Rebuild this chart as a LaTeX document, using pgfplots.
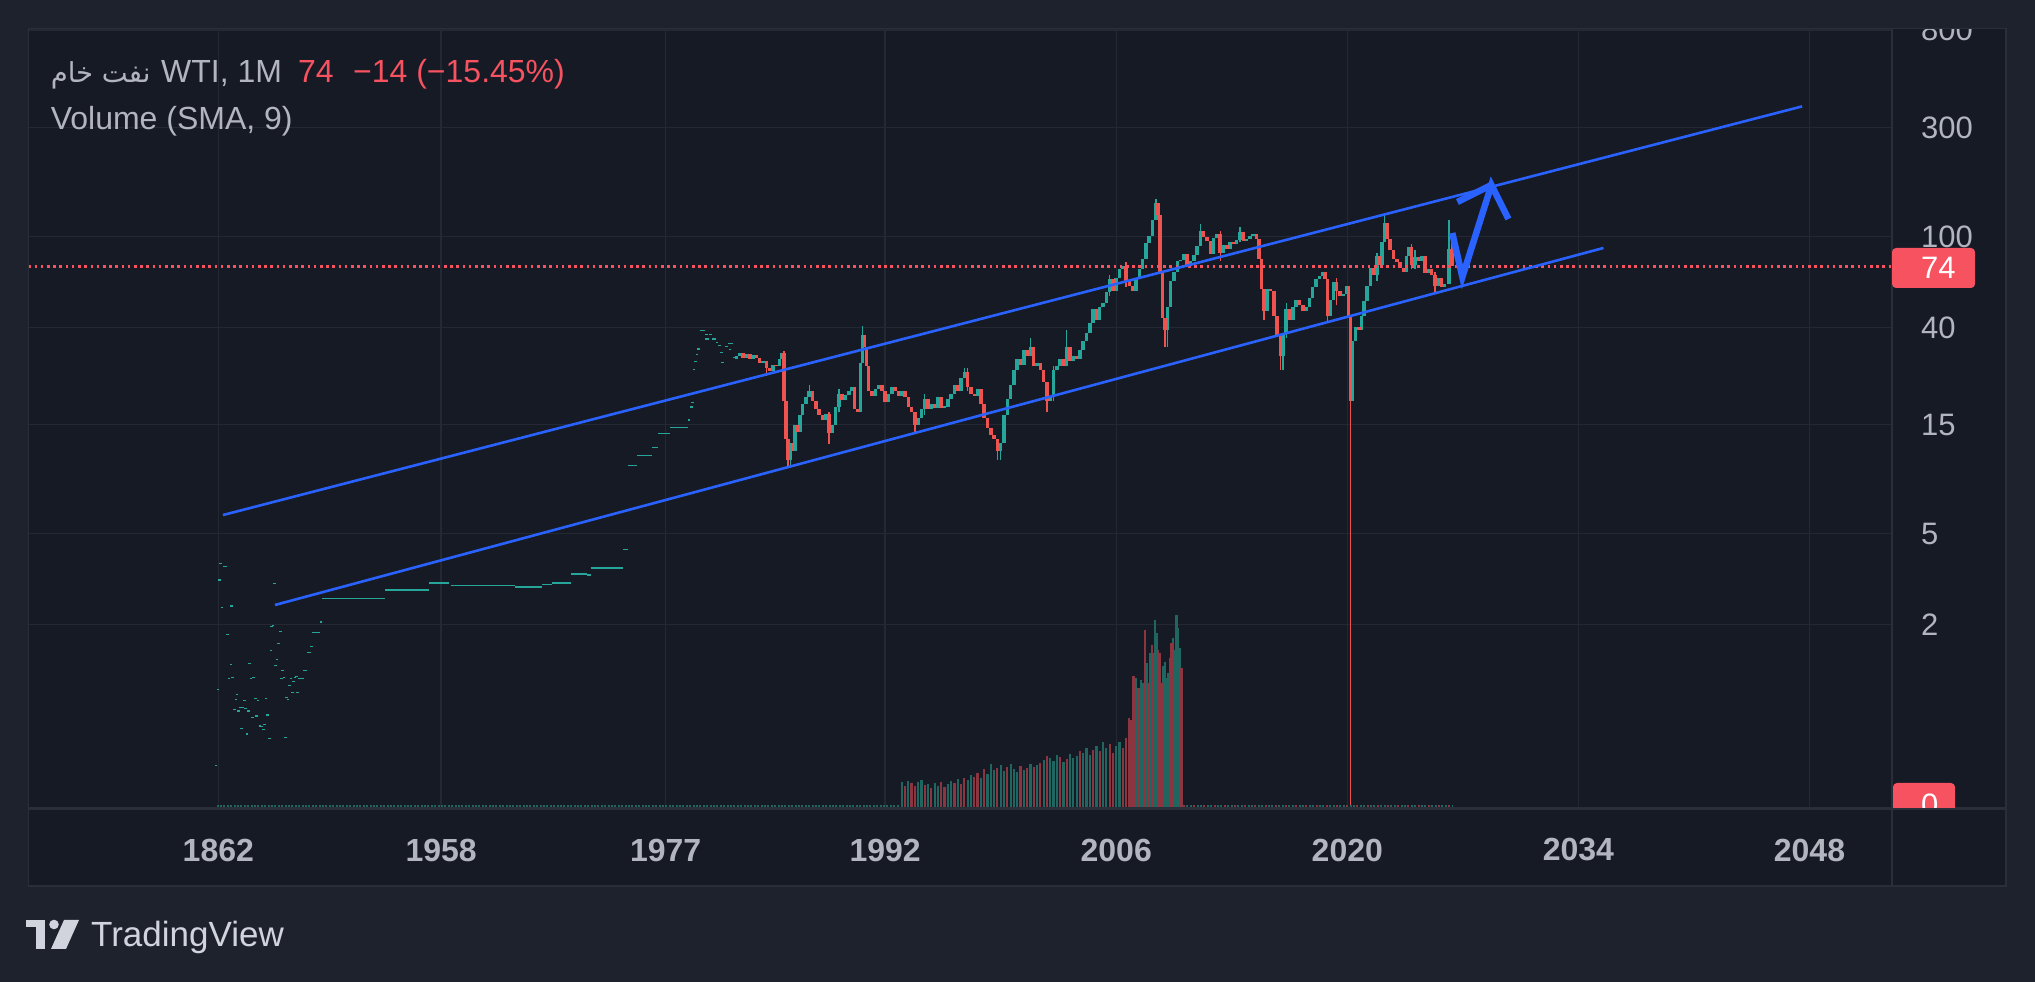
\documentclass[border=0pt]{standalone}
\usepackage{pgfplots}
\pgfplotsset{compat=1.18}
\usepackage{fontspec}
\setmainfont{Liberation Sans}
\newfontfamily\arabicfont[Script=Arabic]{DejaVu Sans}
\TeXXeTstate=1
\definecolor{outerbg}{HTML}{1E222D}
\definecolor{panebg}{HTML}{161A25}
\definecolor{gridc}{HTML}{242833}
\definecolor{borderc}{HTML}{2A2E39}
\definecolor{labc}{HTML}{B2B5BE}
\definecolor{upc}{HTML}{26A69A}
\definecolor{dnc}{HTML}{EF5350}
\definecolor{bluec}{HTML}{2962FF}
\definecolor{redlab}{HTML}{F7525F}
\definecolor{logoc}{HTML}{D1D4DC}
\definecolor{volup}{HTML}{1F6660}
\definecolor{voldn}{HTML}{8A3540}
\begin{document}
\begin{tikzpicture}[x=1pt,y=1pt]
\useasboundingbox (0,0) rectangle (2035,982);
\fill[outerbg] (0,0) rectangle (2035,982);
\fill[panebg] (28.5,96) rectangle (2006,953.5);
\begin{axis}[
  at={(28.5pt,173.5pt)}, anchor=south west,
  width=1863.5pt, height=780pt, scale only axis,
  xmin=1940.1, xmax=2053.0,
  ymode=log, ymin=0.3139, ymax=813.5,
  axis line style={draw=none},
  tick style={draw=none}, major tick length=0pt,
  xtick={1951.6,1965.1,1978.7,1992,2006,2020,2034,2048},
  xticklabels={1862,1958,1977,1992,2006,2020,2034,2048},
  ytick={2,5,15,40,100,300,800},
  yticklabels={2,5,15,40,100,300,800},
  yticklabel pos=right,
  grid=major, grid style={draw=gridc, line width=1.4pt},
  xticklabel style={font=\bfseries\fontsize{32}{38}\selectfont, text=labc, anchor=center, inner sep=0pt, yshift=-41.5pt},
  yticklabel style={font=\fontsize{31}{36}\selectfont, text=labc, anchor=west, inner sep=0pt, xshift=29pt},
  /pgf/number format/assume math mode=true,
  unbounded coords=jump,
  clip=true,
]
% early flat segments
\addplot[upc, line width=1.6pt] coordinates {
(1951.89,3.60)(1952.10,3.60)(1952.10,nan)
(1956.45,1.165)(1956.77,1.165)(1956.77,nan)
(1956.73,1.263)(1956.98,1.263)(1956.98,nan)
(1956.98,1.514)(1957.19,1.514)(1957.19,nan)
(1957.26,1.852)(1957.76,1.852)(1957.76,nan)
(1957.90,2.60)(1961.70,2.60)(1961.70,nan)
(1961.70,2.83)(1964.35,2.83)(1964.35,nan)
(1964.35,3.05)(1965.60,3.05)(1965.60,nan)
(1965.67,2.97)(1969.60,2.97)(1969.60,nan)
(1969.60,2.92)(1971.24,2.92)(1971.24,nan)
(1971.24,3.00)(1971.84,3.00)(1971.84,nan)
(1971.84,3.05)(1972.98,3.05)(1972.98,nan)
(1972.98,3.33)(1973.93,3.33)(1973.93,nan)
(1973.93,3.30)(1974.15,3.30)(1974.15,nan)
(1974.15,3.55)(1976.13,3.55)(1976.13,nan)
(1976.13,4.27)(1976.41,4.27)(1976.41,nan)
(1976.41,9.97)(1976.98,9.97)(1976.98,nan)
(1976.98,11.0)(1977.85,11.0)(1977.85,nan)
(1977.85,11.95)(1978.24,11.95)(1978.24,nan)
(1978.24,13.76)(1978.98,13.76)(1978.98,nan)
(1978.98,14.6)(1980.04,14.6)(1980.04,nan)
(1980.04,15.7)(1980.20,15.7)(1980.20,nan)
(1980.78,38.8)(1981.07,38.8)(1981.07,nan)
(1981.07,37.3)(1981.28,37.3)(1981.28,nan)
(1981.10,35.5)(1981.30,35.5)(1981.30,nan)
(1981.30,37.3)(1981.50,37.3)(1981.50,nan)
(1981.50,35.5)(1981.75,35.5)(1981.75,nan)
(1981.75,34.4)(1981.90,34.4)(1981.90,nan)
(1981.90,33.4)(1982.05,33.4)(1982.05,nan)
(1982.30,33.0)(1982.50,33.0)(1982.50,nan)
(1982.50,34.0)(1982.80,34.0)(1982.80,nan)
};
% early dots
\addplot[only marks, mark=-, mark size=1.3pt, upc, mark options={line width=1.6pt}] coordinates {
(1951.47,0.485)(1951.58,1.043)(1951.68,3.14)(1951.75,3.71)(1951.83,2.38)(1952.17,1.815)
(1952.36,1.342)(1952.25,1.165)(1952.47,1.177)(1952.40,2.41)(1952.66,0.943)(1952.74,0.99)
(1952.59,0.852)(1952.83,0.836)(1952.91,0.870)(1953.06,0.870)(1953.02,0.704)(1953.17,0.933)
(1953.25,0.861)(1953.33,0.663)(1953.44,0.836)(1953.50,1.355)(1953.59,1.165)(1953.67,0.786)
(1953.74,1.177)(1953.84,0.952)(1953.93,0.795)(1954.01,0.933)(1954.12,0.723)(1954.23,0.718)
(1954.35,0.697)(1954.39,0.733)(1954.50,0.952)(1954.58,0.803)(1954.69,0.636)(1954.78,1.545)
(1954.82,1.967)(1954.92,1.987)(1955.01,3.03)(1955.07,1.328)(1955.16,1.411)(1955.24,1.658)
(1955.35,1.871)(1955.43,1.165)(1955.50,1.263)(1955.58,1.177)(1955.67,0.643)(1955.73,0.962)
(1955.81,0.943)(1955.92,1.086)(1956.01,1.165)(1956.09,1.012)(1956.15,1.130)(1956.24,1.177)
(1956.32,1.189)(1956.41,1.012)(1957.23,1.609)(1957.83,2.05)
(1980.25,17.9)(1980.33,18.8)(1980.42,26.2)(1980.50,28.4)(1980.60,30.5)(1980.68,32.1)
(1982.10,31.1)(1982.15,28.1)(1982.60,32)(1982.85,29.5)
};
% wicks
\addplot[upc, line width=1.4pt] coordinates {
(1987.40,19.8)(1987.40,22.5)(1987.40,nan)
(1990.62,28)(1990.62,40.5)(1990.62,nan)
(1996.80,24)(1996.80,26.5)(1996.80,nan)
(2000.80,30)(2000.80,36)(2000.80,nan)
(2003.00,27)(2003.00,39)(2003.00,nan)
(2009.10,33)(2009.10,49)(2009.10,nan)
(2011.10,91)(2011.10,113)(2011.10,nan)
(2022.25,95)(2022.25,126)(2022.25,nan)
(2026.15,62)(2026.15,118)(2026.15,nan)
(2016.10,26)(2016.10,38)(2016.10,nan)
(2008.40,118)(2008.40,146)(2008.40,nan)
(1999.00,10.5)(1999.00,12.5)(1999.00,nan)
(1986.25,9.8)(1986.25,12.5)(1986.25,nan)
(1989.20,17)(1989.20,21.5)(1989.20,nan)
(1994.40,16.5)(1994.40,20.5)(1994.40,nan)
(2002.20,19)(2002.20,27)(2002.20,nan)
(2005.60,55)(2005.60,68)(2005.60,nan)
(2013.50,95)(2013.50,110)(2013.50,nan)
(2016.30,36)(2016.30,51)(2016.30,nan)
(2021.80,64)(2021.80,85)(2021.80,nan)
(2024.10,72)(2024.10,87)(2024.10,nan)
};
\addplot[dnc, line width=1.4pt] coordinates {
(1986.12,9.8)(1986.12,13)(1986.12,nan)
(1998.80,10.5)(1998.80,13)(1998.80,nan)
(2001.80,17)(2001.80,23)(2001.80,nan)
(2008.95,33)(2008.95,44)(2008.95,nan)
(2015.95,26)(2015.95,37)(2015.95,nan)
(2020.20,0.2)(2020.20,45)(2020.20,nan)
(2026.33,74)(2026.33,103)(2026.33,nan)
(2014.95,43)(2014.95,59)(2014.95,nan)
(2018.80,42)(2018.80,65)(2018.80,nan)
(1985.88,19)(1985.88,31.5)(1985.88,nan)
(1984.80,24.5)(1984.80,28.6)(1984.80,nan)
(1993.80,13.8)(1993.80,17)(1993.80,nan)
(1988.60,12.4)(1988.60,17)(1988.60,nan)
(1997.00,21)(1997.00,26.5)(1997.00,nan)
(2006.60,60)(2006.60,77)(2006.60,nan)
(2012.30,78)(2012.30,106)(2012.30,nan)
(2019.35,50)(2019.35,66)(2019.35,nan)
(2023.90,72)(2023.90,93)(2023.90,nan)
(2025.30,56)(2025.30,70)(2025.30,nan)
};
% up candle bodies
\addplot[upc, line width=3.5pt] coordinates {
(1983.00,29)(1983.00,30)(1983.00,nan)(1983.20,30)(1983.20,31)(1983.20,nan)
(1983.60,29.5)(1983.60,30.5)(1983.60,nan)(1984.00,29.2)(1984.00,30.2)(1984.00,nan)
(1984.60,28)(1984.60,28.6)(1984.60,nan)(1985.20,25.8)(1985.20,27.5)(1985.20,nan)
(1985.60,27)(1985.60,29)(1985.60,nan)(1985.75,29)(1985.75,30.8)(1985.75,nan)
(1986.25,10.5)(1986.25,12.5)(1986.25,nan)(1986.55,11.5)(1986.55,15)(1986.55,nan)
(1986.85,14)(1986.85,16.5)(1986.85,nan)(1987.00,16.5)(1987.00,18.5)(1987.00,nan)
(1987.20,18.5)(1987.20,19.8)(1987.20,nan)(1987.40,19.8)(1987.40,21)(1987.40,nan)
(1988.40,15.8)(1988.40,16.8)(1988.40,nan)(1988.80,13.8)(1988.80,15)(1988.80,nan)
(1989.00,15)(1989.00,18)(1989.00,nan)(1989.20,18)(1989.20,20.5)(1989.20,nan)
(1989.60,19.2)(1989.60,20.2)(1989.60,nan)(1989.80,20.2)(1989.80,21)(1989.80,nan)
(1990.00,21)(1990.00,22)(1990.00,nan)(1990.50,17)(1990.50,28)(1990.50,nan)
(1990.62,28)(1990.62,37)(1990.62,nan)(1991.40,20)(1991.40,21.5)(1991.40,nan)
(1991.60,21.5)(1991.60,22.5)(1991.60,nan)(1992.20,18.8)(1992.20,20.5)(1992.20,nan)
(1992.40,20.5)(1992.40,22)(1992.40,nan)(1993.00,20)(1993.00,21)(1993.00,nan)
(1994.00,15)(1994.00,16)(1994.00,nan)(1994.20,16)(1994.20,17.5)(1994.20,nan)
(1994.40,17.5)(1994.40,19.5)(1994.40,nan)(1994.80,17.5)(1994.80,18.5)(1994.80,nan)
(1995.20,17.8)(1995.20,19.8)(1995.20,nan)(1995.60,17.8)(1995.60,18.2)(1995.60,nan)
(1995.80,18)(1995.80,19.5)(1995.80,nan)(1996.00,19.5)(1996.00,20.5)(1996.00,nan)
(1996.20,20.5)(1996.20,22.5)(1996.20,nan)(1996.60,21)(1996.60,24)(1996.60,nan)
(1996.80,24)(1996.80,25.5)(1996.80,nan)(1997.60,20)(1997.60,21.5)(1997.60,nan)
(1999.00,11.5)(1999.00,12.5)(1999.00,nan)(1999.20,12.5)(1999.20,16.5)(1999.20,nan)
(1999.40,16.5)(1999.40,19.5)(1999.40,nan)(1999.60,19.5)(1999.60,22.5)(1999.60,nan)
(1999.80,22.5)(1999.80,26)(1999.80,nan)(2000.00,26)(2000.00,29)(2000.00,nan)
(2000.40,27.5)(2000.40,32)(2000.40,nan)(2000.80,30)(2000.80,33)(2000.80,nan)
(2001.20,27)(2001.20,28)(2001.20,nan)(2002.00,19)(2002.00,20)(2002.00,nan)
(2002.20,20)(2002.20,26)(2002.20,nan)(2002.40,26)(2002.40,27)(2002.40,nan)
(2002.60,27)(2002.60,29)(2002.60,nan)(2003.00,27)(2003.00,33)(2003.00,nan)
(2003.40,28.5)(2003.40,30)(2003.40,nan)(2003.80,29)(2003.80,32)(2003.80,nan)
(2004.00,32)(2004.00,35)(2004.00,nan)(2004.20,35)(2004.20,38)(2004.20,nan)
(2004.40,38)(2004.40,42)(2004.40,nan)(2004.60,42)(2004.60,48)(2004.60,nan)
(2005.00,43)(2005.00,49)(2005.00,nan)(2005.20,49)(2005.20,51)(2005.20,nan)
(2005.40,51)(2005.40,57)(2005.40,nan)(2005.60,57)(2005.60,65)(2005.60,nan)
(2006.00,58)(2006.00,66)(2006.00,nan)(2006.20,66)(2006.20,72)(2006.20,nan)
(2006.40,72)(2006.40,74)(2006.40,nan)(2007.20,58)(2007.20,65)(2007.20,nan)
(2007.40,65)(2007.40,72)(2007.40,nan)(2007.60,72)(2007.60,80)(2007.60,nan)
(2007.80,80)(2007.80,94)(2007.80,nan)(2008.00,94)(2008.00,101)(2008.00,nan)
(2008.20,101)(2008.20,118)(2008.20,nan)(2008.40,118)(2008.40,140)(2008.40,nan)
(2009.10,39)(2009.10,49)(2009.10,nan)(2009.30,49)(2009.30,64)(2009.30,nan)
(2009.50,64)(2009.50,70)(2009.50,nan)(2009.70,70)(2009.70,78)(2009.70,nan)
(2009.90,78)(2009.90,79)(2009.90,nan)(2010.10,79)(2010.10,84)(2010.10,nan)
(2010.50,74)(2010.50,78)(2010.50,nan)(2010.70,78)(2010.70,83)(2010.70,nan)
(2010.90,83)(2010.90,91)(2010.90,nan)(2011.10,91)(2011.10,106)(2011.10,nan)
(2011.90,84)(2011.90,99)(2011.90,nan)(2012.10,99)(2012.10,103)(2012.10,nan)
(2012.50,85)(2012.50,92)(2012.50,nan)(2012.90,88)(2012.90,95)(2012.90,nan)
(2013.30,93)(2013.30,97)(2013.30,nan)(2013.50,97)(2013.50,105)(2013.50,nan)
(2013.90,96)(2013.90,98)(2013.90,nan)(2014.10,98)(2014.10,101)(2014.10,nan)
(2014.30,101)(2014.30,103)(2014.30,nan)(2015.15,47)(2015.15,59)(2015.15,nan)
(2016.10,30)(2016.10,38)(2016.10,nan)(2016.30,38)(2016.30,48)(2016.30,nan)
(2016.70,43)(2016.70,49)(2016.70,nan)(2016.90,49)(2016.90,53)(2016.90,nan)
(2017.50,47)(2017.50,49)(2017.50,nan)(2017.70,49)(2017.70,54)(2017.70,nan)
(2017.90,54)(2017.90,60)(2017.90,nan)(2018.10,60)(2018.10,65)(2018.10,nan)
(2018.30,65)(2018.30,67)(2018.30,nan)(2018.50,67)(2018.50,70)(2018.50,nan)
(2018.95,45)(2018.95,53)(2018.95,nan)(2019.15,53)(2019.15,63)(2019.15,nan)
(2019.75,55)(2019.75,56)(2019.75,nan)(2019.95,56)(2019.95,61)(2019.95,nan)
(2020.32,19)(2020.32,35)(2020.32,nan)(2020.50,35)(2020.50,40)(2020.50,nan)
(2020.85,39)(2020.85,45)(2020.85,nan)(2021.00,45)(2021.00,52)(2021.00,nan)
(2021.20,52)(2021.20,61)(2021.20,nan)(2021.40,61)(2021.40,73)(2021.40,nan)
(2021.80,68)(2021.80,82)(2021.80,nan)(2022.10,75)(2022.10,95)(2022.10,nan)
(2022.25,95)(2022.25,115)(2022.25,nan)(2023.60,70)(2023.60,82)(2023.60,nan)
(2023.75,82)(2023.75,90)(2023.75,nan)(2024.10,75)(2024.10,81)(2024.10,nan)
(2024.50,78)(2024.50,82)(2024.50,nan)(2024.90,69)(2024.90,72)(2024.90,nan)
(2025.50,61)(2025.50,66)(2025.50,nan)(2025.90,60)(2025.90,62)(2025.90,nan)
(2026.15,62)(2026.15,88)(2026.15,nan)
};
% down candle bodies
\addplot[dnc, line width=3.5pt] coordinates {
(1983.40,31)(1983.40,29.5)(1983.40,nan)(1983.80,30.5)(1983.80,29.2)(1983.80,nan)
(1984.20,30.2)(1984.20,29.5)(1984.20,nan)(1984.40,29.5)(1984.40,28)(1984.40,nan)
(1984.80,28.6)(1984.80,26.5)(1984.80,nan)(1985.00,26.5)(1985.00,25.8)(1985.00,nan)
(1985.40,27.5)(1985.40,27)(1985.40,nan)(1985.88,30.8)(1985.88,19)(1985.88,nan)
(1986.00,19)(1986.00,13)(1986.00,nan)(1986.12,13)(1986.12,10.5)(1986.12,nan)
(1986.40,12.5)(1986.40,11.5)(1986.40,nan)(1986.70,15)(1986.70,14)(1986.70,nan)
(1987.60,21)(1987.60,19)(1987.60,nan)(1987.80,19)(1987.80,17.5)(1987.80,nan)
(1988.00,17.5)(1988.00,16.5)(1988.00,nan)(1988.20,16.5)(1988.20,15.8)(1988.20,nan)
(1988.60,16.8)(1988.60,13.8)(1988.60,nan)(1989.40,20.5)(1989.40,19.2)(1989.40,nan)
(1990.15,22)(1990.15,17.5)(1990.15,nan)(1990.35,17.5)(1990.35,17)(1990.35,nan)
(1990.75,37)(1990.75,33)(1990.75,nan)(1990.88,33)(1990.88,27)(1990.88,nan)
(1991.00,27)(1991.00,21)(1991.00,nan)(1991.20,21)(1991.20,20)(1991.20,nan)
(1991.80,22.5)(1991.80,21)(1991.80,nan)(1992.00,21)(1992.00,18.8)(1992.00,nan)
(1992.60,22)(1992.60,21)(1992.60,nan)(1992.80,21)(1992.80,20)(1992.80,nan)
(1993.20,21)(1993.20,19.8)(1993.20,nan)(1993.40,19.8)(1993.40,18)(1993.40,nan)
(1993.60,18)(1993.60,17)(1993.60,nan)(1993.80,17)(1993.80,15)(1993.80,nan)
(1994.60,19.5)(1994.60,17.5)(1994.60,nan)(1995.00,18.5)(1995.00,17.8)(1995.00,nan)
(1995.40,19.8)(1995.40,17.8)(1995.40,nan)(1996.40,22.5)(1996.40,21)(1996.40,nan)
(1997.00,25.5)(1997.00,22)(1997.00,nan)(1997.20,22)(1997.20,20.5)(1997.20,nan)
(1997.40,20.5)(1997.40,20)(1997.40,nan)(1997.80,21.5)(1997.80,18.5)(1997.80,nan)
(1998.00,18.5)(1998.00,16)(1998.00,nan)(1998.20,16)(1998.20,14.5)(1998.20,nan)
(1998.40,14.5)(1998.40,13.5)(1998.40,nan)(1998.60,13.5)(1998.60,13)(1998.60,nan)
(1998.80,13)(1998.80,11.5)(1998.80,nan)(2000.20,29)(2000.20,27.5)(2000.20,nan)
(2000.60,32)(2000.60,30)(2000.60,nan)(2001.00,33)(2001.00,27)(2001.00,nan)
(2001.40,28)(2001.40,26)(2001.40,nan)(2001.60,26)(2001.60,23)(2001.60,nan)
(2001.80,23)(2001.80,19)(2001.80,nan)(2002.80,29)(2002.80,27)(2002.80,nan)
(2003.20,33)(2003.20,28.5)(2003.20,nan)(2003.60,30)(2003.60,29)(2003.60,nan)
(2004.80,48)(2004.80,43)(2004.80,nan)(2005.80,65)(2005.80,58)(2005.80,nan)
(2006.60,74)(2006.60,64)(2006.60,nan)(2006.80,64)(2006.80,61)(2006.80,nan)
(2007.00,61)(2007.00,58)(2007.00,nan)(2008.52,140)(2008.52,124)(2008.52,nan)
(2008.65,124)(2008.65,70)(2008.65,nan)(2008.80,70)(2008.80,44)(2008.80,nan)
(2008.95,44)(2008.95,39)(2008.95,nan)(2010.30,84)(2010.30,74)(2010.30,nan)
(2011.30,106)(2011.30,100)(2011.30,nan)(2011.50,100)(2011.50,96)(2011.50,nan)
(2011.70,96)(2011.70,84)(2011.70,nan)(2012.30,103)(2012.30,85)(2012.30,nan)
(2012.70,92)(2012.70,88)(2012.70,nan)(2013.10,95)(2013.10,93)(2013.10,nan)
(2013.70,105)(2013.70,96)(2013.70,nan)(2014.50,103)(2014.50,98)(2014.50,nan)
(2014.65,98)(2014.65,80)(2014.65,nan)(2014.80,80)(2014.80,59)(2014.80,nan)
(2014.95,59)(2014.95,47)(2014.95,nan)(2015.35,59)(2015.35,58)(2015.35,nan)
(2015.55,58)(2015.55,45)(2015.55,nan)(2015.75,45)(2015.75,37)(2015.75,nan)
(2015.95,37)(2015.95,30)(2015.95,nan)(2016.50,48)(2016.50,43)(2016.50,nan)
(2017.10,53)(2017.10,50)(2017.10,nan)(2017.30,50)(2017.30,47)(2017.30,nan)
(2018.65,70)(2018.65,65)(2018.65,nan)(2018.80,65)(2018.80,45)(2018.80,nan)
(2019.35,63)(2019.35,58)(2019.35,nan)(2019.55,58)(2019.55,55)(2019.55,nan)
(2020.08,61)(2020.08,45)(2020.08,nan)(2020.20,45)(2020.20,19)(2020.20,nan)
(2020.70,40)(2020.70,39)(2020.70,nan)(2021.60,73)(2021.60,68)(2021.60,nan)
(2021.95,82)(2021.95,75)(2021.95,nan)(2022.40,115)(2022.40,98)(2022.40,nan)
(2022.60,98)(2022.60,87)(2022.60,nan)(2022.80,87)(2022.80,80)(2022.80,nan)
(2023.00,80)(2023.00,77)(2023.00,nan)(2023.20,77)(2023.20,73)(2023.20,nan)
(2023.40,73)(2023.40,70)(2023.40,nan)(2023.90,90)(2023.90,75)(2023.90,nan)
(2024.30,81)(2024.30,78)(2024.30,nan)(2024.70,82)(2024.70,69)(2024.70,nan)
(2025.10,72)(2025.10,68)(2025.10,nan)(2025.30,68)(2025.30,61)(2025.30,nan)
(2025.70,66)(2025.70,60)(2025.70,nan)(2026.33,88)(2026.33,74)(2026.33,nan)
};
% last price line
\addplot[redlab, line width=2.6pt, dash pattern=on 2.6pt off 3.6pt] coordinates {(1940.1,74)(2053.0,74)};
% channel
\addplot[bluec, line width=2.6pt] coordinates {(1951.88,6.04)(2047.55,371)};
\addplot[bluec, line width=2.6pt] coordinates {(1955.03,2.44)(2035.52,89.1)};
% projection arrow
\addplot[bluec, line width=6.5pt, line join=miter, miter limit=10] coordinates {(2026.36,103.6)(2026.97,66.5)(2028.73,168)(2029.76,119.3)};
\addplot[bluec, line width=6.5pt] coordinates {(2026.67,141.6)(2028.73,168)};
\end{axis}
% volume overlay
\begin{axis}[
  at={(28.5pt,173.5pt)}, anchor=south west,
  width=1863.5pt, height=780pt, scale only axis,
  xmin=1940.1, xmax=2053.0, ymin=0, ymax=780,
  hide axis, clip=true,
]
\addplot[volup, line width=3pt, dash pattern=on 2pt off 1.4pt] coordinates {(1951.5,2)(1992.9,2)};
\addplot[volup, line width=3pt, dash pattern=on 2pt off 1.4pt] coordinates {(2010.05,2)(2026.35,2)};
\addplot[voldn, line width=3pt, dash pattern=on 2pt off 8.2pt] coordinates {(2010.05,2)(2026.35,2)};
\addplot[ycomb, volup, line width=2.2pt] coordinates {
(1993.0,26)(1993.4,27)(1994.0,26)(1994.2,28)(1994.6,24)(1995.0,25)(1995.2,22)(1995.8,24)
(1996.0,27)(1996.4,29)(1997.0,28)(1997.2,33)(1997.8,30)(1998.2,34)(1998.4,44)(1998.6,38)
(1999.0,43)(1999.2,37)(1999.6,44)(1999.8,39)(2000.0,36)(2000.4,38)(2000.8,44)(2001.2,43)
(2001.6,48)(2002.0,50)(2002.2,47)(2002.4,53)(2002.8,46)(2003.2,54)(2003.4,50)(2003.6,52)
(2004.0,55)(2004.2,60)(2004.4,53)(2004.8,62)(2005.2,66)(2005.4,60)(2006.0,62)(2006.2,66)
(2007.2,130)(2007.5,128)(2007.65,125)(2007.85,145)(2008.05,155)(2008.25,155)(2008.35,188)
(2008.45,175)(2008.85,142)(2008.95,146)(2009.05,130)(2009.15,135)(2009.25,150)(2009.45,170)
(2009.55,158)(2009.65,193)(2009.75,180)(2009.85,160)
};
\addplot[ycomb, voldn, line width=2.2pt] coordinates {
(1993.2,22)(1993.6,25)(1993.8,22)(1994.4,23)(1994.8,20)(1995.4,26)(1995.6,21)(1996.2,25)
(1996.6,24)(1996.8,30)(1997.4,31)(1997.6,35)(1998.0,39)(1998.8,40)(1999.4,41)(2000.2,42)
(2000.6,40)(2001.0,41)(2001.4,45)(2001.8,52)(2002.6,51)(2003.0,49)(2003.8,57)(2004.6,58)
(2005.0,57)(2005.6,64)(2005.8,55)(2006.4,60)(2006.6,70)(2006.75,90)(2006.9,88)(2007.05,132)
(2007.35,120)(2007.75,178)(2007.95,125)(2008.15,163)(2008.55,158)(2008.65,155)(2008.75,125)
(2009.35,165)(2009.95,140)
};
\end{axis}
% outer strip on top (cuts the 800 label)
\fill[outerbg] (0,953.5) rectangle (2035,982);
% frame
\draw[borderc, line width=1.5pt] (28.5,96) rectangle (2006,953.5);
\draw[borderc, line width=1.5pt] (1892,96) -- (1892,953.5);
\draw[borderc, line width=2.5pt] (28.5,173.5) -- (2006,173.5);
% price label 74
\fill[redlab, rounded corners=4pt] (1892,694) -- (1975,694) -- (1975,734) -- (1892,734) -- cycle;
\node[anchor=west, inner sep=0pt, text=white, font=\fontsize{31}{36}\selectfont] at (1921,714) {74};
% volume label 0 (clipped)
\begin{scope}
\clip (1893,174.8) rectangle (2005,953.5);
\fill[redlab, rounded corners=4pt] (1893,150) rectangle (1955,199);
\node[anchor=west, inner sep=0pt, text=white, font=\fontsize{31}{36}\selectfont] at (1921,177) {0};
\end{scope}
% header
\node[anchor=base west, inner sep=0pt, text=labc, font=\fontsize{27.5}{34}\selectfont] at (50.6,899.5) {\arabicfont\beginR نفت خام\endR};
\node[anchor=base west, inner sep=0pt, text=labc, font=\fontsize{32}{38}\selectfont] at (161,899.5) {WTI, 1M};
\node[anchor=base west, inner sep=0pt, text=redlab, font=\fontsize{32}{38}\selectfont] at (298,899.5) {74};
\node[anchor=base west, inner sep=0pt, text=redlab, font=\fontsize{32}{38}\selectfont] at (353,899.5) {−14 (−15.45\%)};
\node[anchor=base west, inner sep=0pt, text=labc, font=\fontsize{32}{38}\selectfont] at (50.6,852.5) {Volume (SMA, 9)};
% TradingView logo
\fill[logoc] (26,55) rectangle (45,62);
\fill[logoc] (36,33) rectangle (45,62);
\fill[logoc] (54,57.5) circle (4.8);
\fill[logoc] (64,62) -- (79,62) -- (66,33) -- (51,33) -- cycle;
\node[anchor=base west, inner sep=0pt, text=logoc, font=\fontsize{35}{40}\selectfont] at (91,35) {TradingView};
\end{tikzpicture}
\end{document}
